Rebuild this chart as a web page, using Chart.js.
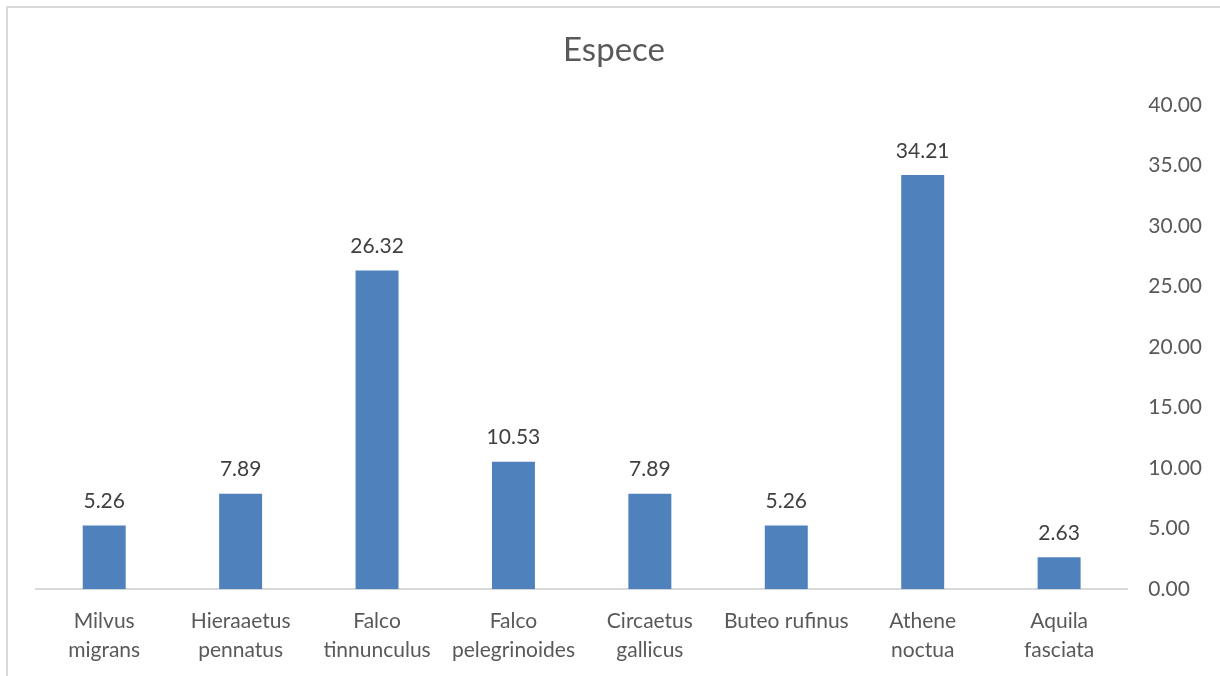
<!DOCTYPE html>
<html>
<head>
<meta charset="utf-8">
<script src="https://cdn.jsdelivr.net/npm/chart.js@4/dist/chart.umd.min.js"></script>
<style>
  html, body { margin: 0; padding: 0; background: #fff; overflow: hidden; }
  #wrap { position: absolute; left: 0; top: 0; width: 1220px; height: 682px; }
  #frame { position: absolute; left: 6px; top: 6px; width: 1400px; height: 900px;
           border-left: 2px solid #d9d9d9; border-top: 2px solid #d9d9d9; pointer-events: none; }
</style>
</head>
<body>
<div id="wrap"><canvas id="c" width="1220" height="682"></canvas></div>
<div id="frame"></div>
<script>
// Species names (split over two lines where the axis wraps them)
const categories = [
  ["Milvus", "migrans"],
  ["Hieraaetus", "pennatus"],
  ["Falco", "tinnunculus"],
  ["Falco", "pelegrinoides"],
  ["Circaetus", "gallicus"],
  "Buteo rufinus",
  ["Athene", "noctua"],
  ["Aquila", "fasciata"]
];
// Percentage per species
const values = [5.26, 7.89, 26.32, 10.53, 7.89, 5.26, 34.21, 2.63];
// Value axis range
const yMin = 0, yMax = 40, yStep = 5;
const chartTitle = 'Espece';

const FONT = "Lato, 'Open Sans', sans-serif";

// Chart title, centred on the whole framed chart rather than the plot
const titlePlugin = {
  id: 'framedTitle',
  afterDraw(chart) {
    const ctx = chart.ctx;
    ctx.save();
    ctx.font = "33px " + FONT;
    ctx.fillStyle = '#595959';
    ctx.textAlign = 'center';
    ctx.textBaseline = 'middle';
    ctx.fillText(chartTitle, 614, 50);
    ctx.restore();
  }
};

// Writes each bar's value above it
const valueLabels = {
  id: 'valueLabels',
  afterDatasetsDraw(chart) {
    const ctx = chart.ctx;
    const meta = chart.getDatasetMeta(0);
    ctx.save();
    ctx.font = "21px " + FONT;
    ctx.fillStyle = '#404040';
    ctx.textAlign = 'center';
    ctx.textBaseline = 'middle';
    meta.data.forEach((bar, i) => {
      const v = chart.data.datasets[0].data[i];
      ctx.fillText(v.toFixed(2), bar.x, bar.y - 24);
    });
    ctx.restore();
  }
};

new Chart(document.getElementById('c'), {
  type: 'bar',
  data: {
    labels: categories,
    datasets: [{
      label: chartTitle,
      data: values,
      backgroundColor: '#4F81BD',
      borderWidth: 0,
      categoryPercentage: 1,
      barPercentage: 0.315
    }]
  },
  options: {
    responsive: false,
    animation: false,
    layout: { padding: { left: 36, right: -3, top: 105, bottom: 0 } },
    plugins: {
      legend: { display: false },
      tooltip: { enabled: false },
      title: { display: false }
    },
    scales: {
      x: {
        grid: { display: false, drawTicks: false },
        border: { display: true, color: '#d9d9d9', width: 2 },
        ticks: {
          color: '#595959',
          font: { family: FONT, size: 21, lineHeight: 1.4 },
          padding: 17,
          maxRotation: 0,
          autoSkip: false
        }
      },
      y: {
        position: 'right',
        min: yMin,
        max: yMax,
        grid: { display: false, drawTicks: false },
        border: { display: false },
        ticks: {
          stepSize: yStep,
          color: '#595959',
          font: { family: FONT, size: 21 },
          padding: 21,
          callback: v => Number(v).toFixed(2)
        }
      }
    }
  },
  plugins: [valueLabels, titlePlugin]
});
</script>
</body>
</html>
